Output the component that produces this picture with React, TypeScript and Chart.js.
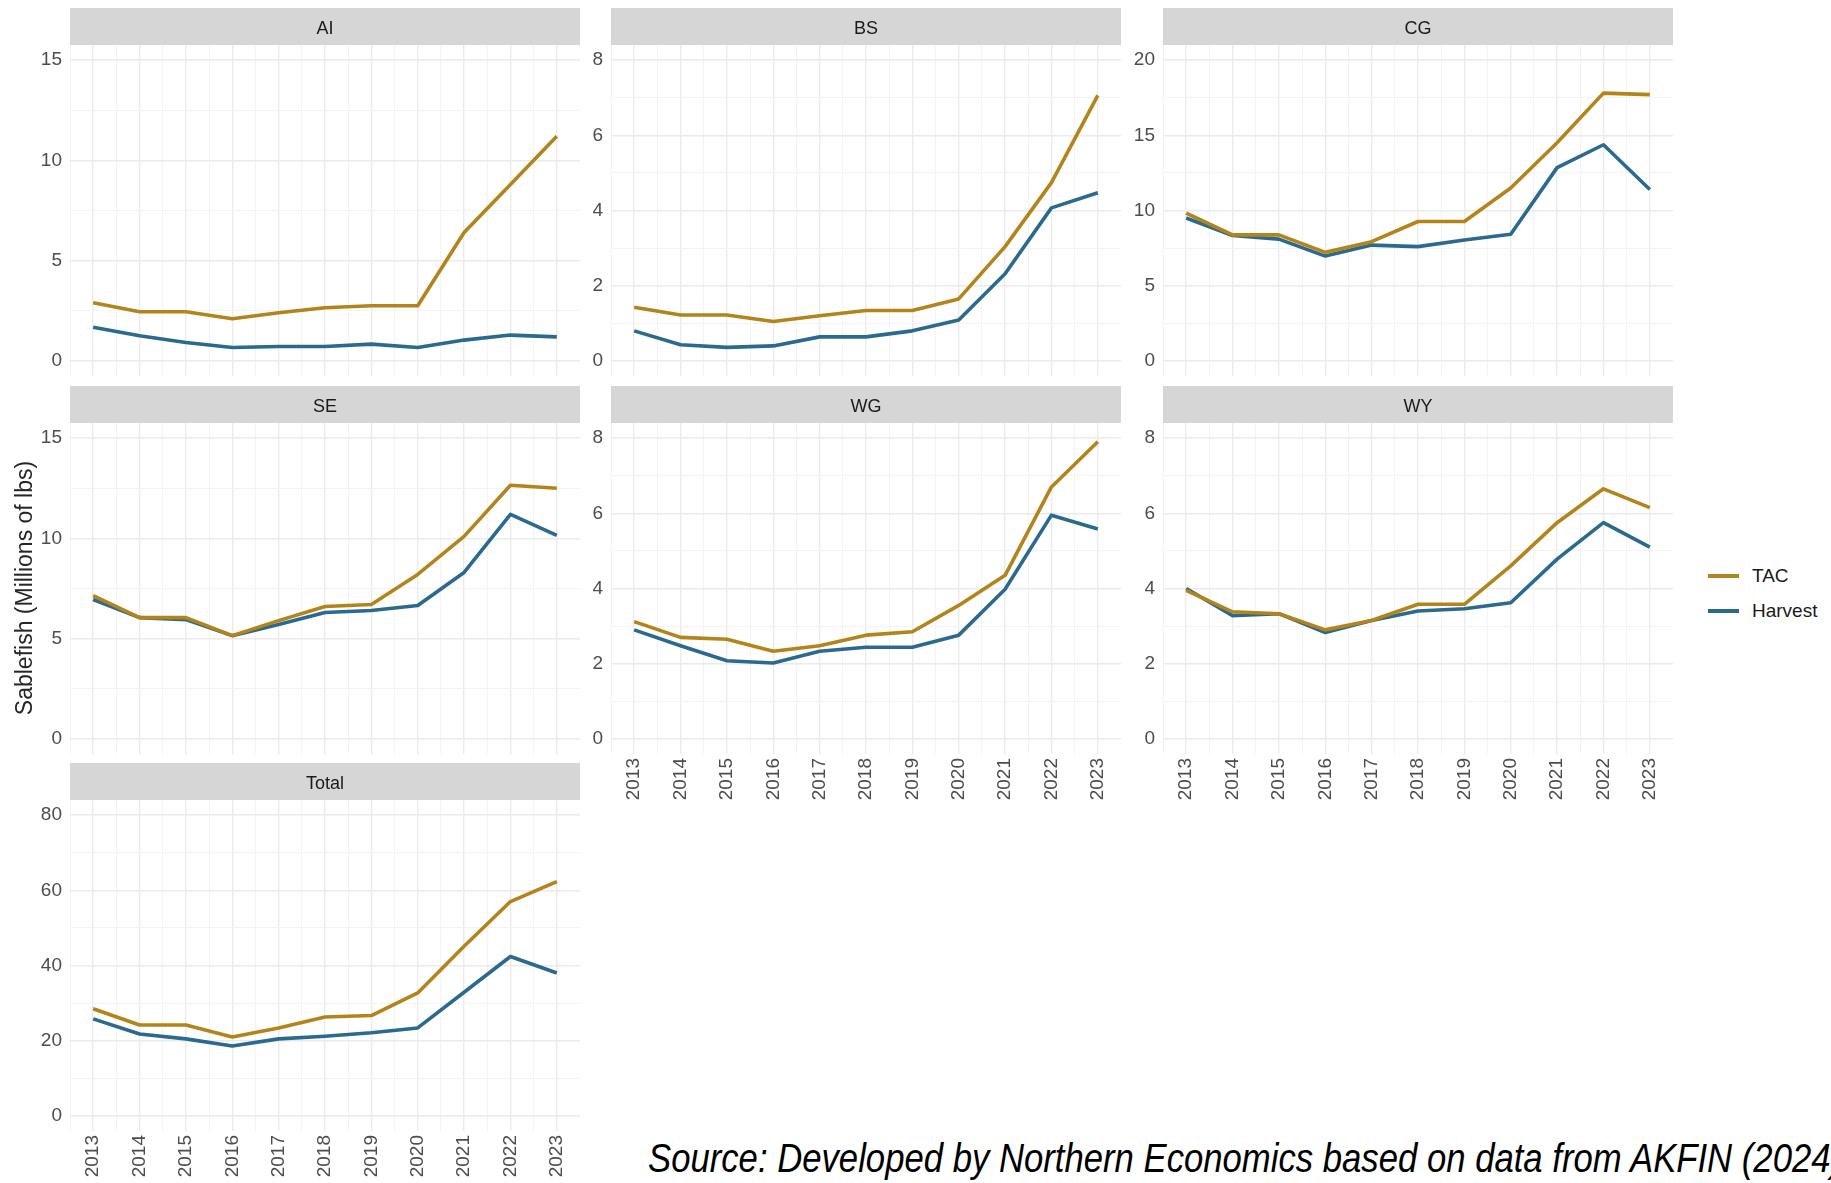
import React, { useEffect, useRef } from 'react';
import { Chart, registerables } from 'chart.js';

Chart.register(...registerables);

// ---------------- DATA ----------------
const years = [2013, 2014, 2015, 2016, 2017, 2018, 2019, 2020, 2021, 2022, 2023];
const seriesNames = ['TAC', 'Harvest'];

const aiTac = [2.9, 2.45, 2.45, 2.1, 2.4, 2.65, 2.75, 2.75, 6.4, 8.8, 11.2];
const aiHarvest = [1.68, 1.26, 0.92, 0.67, 0.72, 0.72, 0.84, 0.67, 1.04, 1.29, 1.2];
const aiTicks = [0, 5, 10, 15];

const bsTac = [1.43, 1.22, 1.22, 1.05, 1.2, 1.34, 1.34, 1.65, 3.04, 4.74, 7.06];
const bsHarvest = [0.8, 0.43, 0.36, 0.4, 0.64, 0.64, 0.8, 1.09, 2.32, 4.07, 4.47];
const bsTicks = [0, 2, 4, 6, 8];

const cgTac = [9.83, 8.38, 8.38, 7.22, 7.93, 9.27, 9.27, 11.5, 14.5, 17.8, 17.7];
const cgHarvest = [9.5, 8.34, 8.1, 6.97, 7.7, 7.6, 8.04, 8.42, 12.85, 14.37, 11.4];
const cgTicks = [0, 5, 10, 15, 20];

const seTac = [7.15, 6.05, 6.05, 5.15, 5.9, 6.6, 6.7, 8.2, 10.1, 12.65, 12.5];
const seHarvest = [6.95, 6.05, 5.95, 5.15, 5.7, 6.3, 6.4, 6.65, 8.3, 11.2, 10.15];
const seTicks = [0, 5, 10, 15];

const wgTac = [3.12, 2.7, 2.65, 2.33, 2.48, 2.76, 2.85, 3.55, 4.35, 6.7, 7.9];
const wgHarvest = [2.9, 2.48, 2.08, 2.02, 2.33, 2.44, 2.44, 2.76, 3.98, 5.95, 5.58];
const wgTicks = [0, 2, 4, 6, 8];

const wyTac = [3.95, 3.38, 3.33, 2.9, 3.15, 3.58, 3.58, 4.6, 5.75, 6.65, 6.15];
const wyHarvest = [4.0, 3.28, 3.33, 2.83, 3.15, 3.4, 3.46, 3.62, 4.78, 5.75, 5.1];
const wyTicks = [0, 2, 4, 6, 8];

const totalTac = [28.5, 24.2, 24.2, 21.0, 23.4, 26.3, 26.7, 32.7, 45.1, 57.0, 62.3];
const totalHarvest = [25.8, 21.8, 20.5, 18.6, 20.5, 21.2, 22.1, 23.4, 32.9, 42.4, 38.0];
const totalTicks = [0, 20, 40, 60, 80];

const yAxisTitle = 'Sablefish (Millions of lbs)';
const sourceNote = 'Source: Developed by Northern Economics based on data from AKFIN (2024)';

// ---------------- STYLE / LAYOUT ----------------
const FONT = '"Liberation Sans", Arial, Helvetica, sans-serif';
const TAC_COLOR = '#B3841A';
const HARVEST_COLOR = '#2B6A8F';
const STRIP_FILL = '#D6D6D6';
const COL_LEFT = [70, 611, 1163];
const ROW_TOP = [8, 386, 763];
const PLOT_W = 510;
const STRIP_H = 37;
const PLOT_H = 331;
const Y_W = 60;
const X_H = 56;
const LINE_W = 3.6;

type Panel = {
  name: string;
  tac: number[];
  harvest: number[];
  ticks: number[];
  col: number;
  row: number;
  hasX: boolean;
};

const panels: Panel[] = [
  { name: 'AI', tac: aiTac, harvest: aiHarvest, ticks: aiTicks, col: 0, row: 0, hasX: false },
  { name: 'BS', tac: bsTac, harvest: bsHarvest, ticks: bsTicks, col: 1, row: 0, hasX: false },
  { name: 'CG', tac: cgTac, harvest: cgHarvest, ticks: cgTicks, col: 2, row: 0, hasX: false },
  { name: 'SE', tac: seTac, harvest: seHarvest, ticks: seTicks, col: 0, row: 1, hasX: false },
  { name: 'WG', tac: wgTac, harvest: wgHarvest, ticks: wgTicks, col: 1, row: 1, hasX: true },
  { name: 'WY', tac: wyTac, harvest: wyHarvest, ticks: wyTicks, col: 2, row: 1, hasX: true },
  { name: 'Total', tac: totalTac, harvest: totalHarvest, ticks: totalTicks, col: 0, row: 2, hasX: true },
];

const stripPlugin = {
  id: 'strip',
  beforeDraw(chart: any, _args: any, opts: any) {
    const { ctx, chartArea } = chart;
    ctx.save();
    ctx.fillStyle = STRIP_FILL;
    ctx.fillRect(chartArea.left, 0, chartArea.right - chartArea.left, chartArea.top);
    ctx.fillStyle = '#1A1A1A';
    ctx.font = `18px ${FONT}`;
    ctx.textAlign = 'center';
    ctx.textBaseline = 'middle';
    ctx.fillText(opts.text, (chartArea.left + chartArea.right) / 2, chartArea.top / 2 + 3);
    ctx.restore();
  },
};

function PanelChart({ p }: { p: Panel }) {
  const ref = useRef<HTMLCanvasElement | null>(null);
  const width = Y_W + PLOT_W;
  const height = STRIP_H + PLOT_H + (p.hasX ? X_H : 0);
  const left = COL_LEFT[p.col] - Y_W;
  const top = ROW_TOP[p.row];

  useEffect(() => {
    if (!ref.current) return;
    const majors = p.ticks;
    const step = majors[1] - majors[0];
    const yMax = majors[majors.length - 1];
    const exp = yMax * 0.05;
    const yAll: number[] = [];
    majors.forEach((v, i) => {
      yAll.push(v);
      if (i < majors.length - 1) yAll.push(v + step / 2);
    });
    const xAll: number[] = [years[0] - 0.5];
    years.forEach((y) => {
      xAll.push(y);
      xAll.push(y + 0.5);
    });
    const isMajorY = (v: number) => majors.some((m) => Math.abs(m - v) < 1e-9);
    const isMajorX = (v: number) => Math.abs(v - Math.round(v)) < 1e-9;

    const chart = new Chart(ref.current, {
      type: 'line',
      data: {
        datasets: [
          {
            label: seriesNames[0],
            data: years.map((y, i) => ({ x: y, y: p.tac[i] })),
            borderColor: TAC_COLOR,
            backgroundColor: TAC_COLOR,
          },
          {
            label: seriesNames[1],
            data: years.map((y, i) => ({ x: y, y: p.harvest[i] })),
            borderColor: HARVEST_COLOR,
            backgroundColor: HARVEST_COLOR,
          },
        ],
      },
      plugins: [stripPlugin as any],
      options: {
        animation: false,
        responsive: false,
        maintainAspectRatio: false,
        devicePixelRatio: 1,
        layout: { padding: { top: STRIP_H, left: 0, right: 0, bottom: 0 } },
        elements: {
          point: { radius: 0, hoverRadius: 0 },
          line: { borderWidth: LINE_W, tension: 0, borderJoinStyle: 'round', borderCapStyle: 'butt' },
        },
        plugins: {
          legend: { display: false },
          tooltip: { enabled: false },
          strip: { text: p.name },
        } as any,
        scales: {
          x: {
            type: 'linear',
            bounds: 'data',
            min: years[0] - 0.5,
            max: years[years.length - 1] + 0.5,
            afterBuildTicks: (s: any) => {
              s.ticks = xAll.map((v) => ({ value: v }));
            },
            afterFit: (s: any) => {
              s.height = p.hasX ? X_H : 0;
              s.paddingLeft = 0;
              s.paddingRight = 0;
            },
            ticks: {
              display: p.hasX,
              autoSkip: false,
              minRotation: 90,
              maxRotation: 90,
              padding: 4,
              color: '#4D4D4D',
              font: { family: FONT, size: 19 },
              callback: (v: any) => (isMajorX(Number(v)) ? String(Math.round(Number(v))) : ''),
            },
            grid: {
              drawTicks: false,
              color: (c: any) => (c.tick && isMajorX(c.tick.value) ? '#EBEBEB' : '#F3F3F3'),
              lineWidth: (c: any) => (c.tick && isMajorX(c.tick.value) ? 1.4 : 1),
            },
            border: { display: false },
          },
          y: {
            type: 'linear',
            bounds: 'data',
            min: -exp,
            max: yMax + exp,
            afterBuildTicks: (s: any) => {
              s.ticks = yAll.map((v) => ({ value: v }));
            },
            afterFit: (s: any) => {
              s.width = Y_W;
              s.paddingTop = 0;
              s.paddingBottom = 0;
            },
            ticks: {
              autoSkip: false,
              padding: 8,
              color: '#4D4D4D',
              font: { family: FONT, size: 19 },
              callback: (v: any) => (isMajorY(Number(v)) ? String(v) : ''),
            },
            grid: {
              drawTicks: false,
              color: (c: any) => (c.tick && isMajorY(c.tick.value) ? '#EBEBEB' : '#F3F3F3'),
              lineWidth: (c: any) => (c.tick && isMajorY(c.tick.value) ? 1.4 : 1),
            },
            border: { display: false },
          },
        },
      } as any,
    });
    return () => chart.destroy();
  }, []);

  return (
    <canvas
      ref={ref}
      width={width}
      height={height}
      style={{ position: 'absolute', left, top, width, height }}
    />
  );
}

export default function App() {
  useEffect(() => {
    document.body.style.margin = '0';
    document.body.style.overflow = 'hidden';
  }, []);

  return (
    <div
      style={{
        position: 'absolute',
        left: 0,
        top: 0,
        width: 1831,
        height: 1183,
        overflow: 'hidden',
        background: '#FFFFFF',
        fontFamily: FONT,
      }}
    >
      {panels.map((p) => (
        <PanelChart key={p.name} p={p} />
      ))}

      <div
        style={{
          position: 'absolute',
          left: 24 - 200,
          top: 588 - 15,
          width: 400,
          height: 30,
          lineHeight: '30px',
          textAlign: 'center',
          fontSize: 23,
          color: '#262626',
          transform: 'rotate(-90deg)',
          transformOrigin: '200px 15px',
          whiteSpace: 'nowrap',
        }}
      >
        {yAxisTitle}
      </div>

      {[
        { name: seriesNames[0], color: TAC_COLOR, y: 576 },
        { name: seriesNames[1], color: HARVEST_COLOR, y: 611 },
      ].map((it) => (
        <div key={it.name}>
          <div
            style={{
              position: 'absolute',
              left: 1708,
              top: it.y - 1.8,
              width: 31,
              height: LINE_W,
              background: it.color,
            }}
          />
          <div
            style={{
              position: 'absolute',
              left: 1752,
              top: it.y - 12,
              height: 24,
              lineHeight: '24px',
              fontSize: 19,
              color: '#1A1A1A',
              whiteSpace: 'nowrap',
            }}
          >
            {it.name}
          </div>
        </div>
      ))}

      <div
        style={{
          position: 'absolute',
          left: 648,
          top: 1134,
          height: 48,
          lineHeight: '48px',
          fontSize: 41,
          fontStyle: 'italic',
          color: '#000000',
          whiteSpace: 'nowrap',
          transform: 'scaleX(0.846)',
          transformOrigin: '0 0',
        }}
      >
        {sourceNote}
      </div>
    </div>
  );
}
